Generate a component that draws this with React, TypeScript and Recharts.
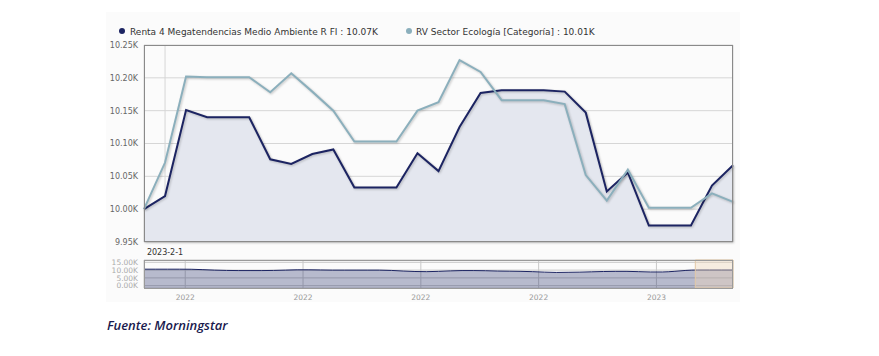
import React from 'react';
import { ComposedChart, Area, Line, XAxis, YAxis, CartesianGrid, ReferenceArea } from 'recharts';

const dates = [
  '2023-1-31', '2023-2-1', '2023-2-2', '2023-2-3', '2023-2-4', '2023-2-5', '2023-2-6', '2023-2-7',
  '2023-2-8', '2023-2-9', '2023-2-10', '2023-2-11', '2023-2-12', '2023-2-13', '2023-2-14', '2023-2-15',
  '2023-2-16', '2023-2-17', '2023-2-18', '2023-2-19', '2023-2-20', '2023-2-21', '2023-2-22', '2023-2-23',
  '2023-2-24', '2023-2-25', '2023-2-26', '2023-2-27', '2023-2-28',
];

const renta = [
  10000, 10020, 10151, 10140, 10140, 10140, 10076, 10069, 10084, 10091, 10033, 10033, 10033, 10085, 10058,
  10125, 10177, 10181, 10181, 10181, 10179, 10147, 10027, 10056, 9975, 9975, 9975, 10036, 10067,
];

const sector = [
  10000, 10071, 10202, 10201, 10201, 10201, 10178, 10207, 10179, 10150, 10103, 10103, 10103, 10150, 10163,
  10227, 10209, 10166, 10166, 10166, 10160, 10052, 10013, 10060, 10002, 10002, 10002, 10024, 10011,
];

const yTicks = [9950, 10000, 10050, 10100, 10150, 10200, 10250];
const xTickIdx = [1];

const navValues = [
  10600, 10600, 10600, 10600, 10550, 10300, 10000, 9800, 9700, 9700, 9700, 9800, 10000, 10200, 10200, 10100,
  10000, 10000, 10000, 10000, 10000, 9800, 9400, 9100, 9000, 9200, 9500, 9700, 9700, 9600, 9400, 9300, 9200,
  9000, 8700, 8500, 8600, 8700, 8900, 9100, 9200, 9200, 9000, 8800, 8800, 9200, 9800, 10070, 10070, 10070, 10070,
];
const navTickPos = [3.5, 13.5, 23.5, 33.5, 43.5];
const navTickLabels = ['2022', '2022', '2022', '2022', '2023'];
const navYTicks = [0, 5000, 10000, 15000];
const navSelection = [46.8, 50];

const legendLabels = [
  'Renta 4 Megatendencias Medio Ambiente R FI : 10.07K',
  'RV Sector Ecología [Categoría] : 10.01K',
];

const DARK = '#1c2462';
const LIGHT = '#8bafbc';

const mainData = dates.map((d, i) => ({ i, date: d, renta: renta[i], sector: sector[i] }));
const navData = navValues.map((v, i) => ({ i, v }));

const fmtK = (v: number) => (v / 1000).toFixed(2) + 'K';

export default function App() {
  return (
    <div style={{ position: 'absolute', left: 0, top: 0, width: 879, height: 356, background: '#fff', overflow: 'hidden', fontFamily: 'DejaVu Sans' }}>
      <style>{`.shadowed path.recharts-curve { filter: drop-shadow(1px 1px 1px rgba(0,0,0,0.22)); }`}</style>
      <div style={{ position: 'absolute', left: 106, top: 12, width: 634, height: 290, background: '#fbfbfb' }} />
      <svg width={879} height={50} style={{ position: 'absolute', left: 0, top: 0 }}>
        <circle cx={122} cy={31} r={3} fill={DARK} />
        <text x={130} y={34.5} fontSize={9} fill="#333" fontFamily="DejaVu Sans">{legendLabels[0]}</text>
        <circle cx={409} cy={31} r={3} fill={LIGHT} />
        <text x={416} y={34.5} fontSize={9} fill="#333" fontFamily="DejaVu Sans">{legendLabels[1]}</text>
      </svg>
      <div style={{ position: 'absolute', left: 0, top: 0 }}>
        <ComposedChart width={879} height={262} data={mainData} margin={{ top: 45, right: 146, bottom: 0, left: 104 }}>
          <CartesianGrid stroke="#d6d6d6" />
          <XAxis
            dataKey="i"
            type="number"
            domain={[0, 28]}
            ticks={xTickIdx}
            interval={0}
            tickFormatter={(v: number) => dates[v]}
            axisLine={false}
            tickLine={false}
            tickSize={5}
            tickMargin={2}
            height={20}
            tick={{ fontSize: 8, fill: '#333', fontFamily: 'DejaVu Sans' }}
          />
          <YAxis
            type="number"
            domain={[9950, 10250]}
            ticks={yTicks}
            interval={0}
            tickFormatter={fmtK}
            axisLine={false}
            tickLine={false}
            tickSize={4}
            tickMargin={2}
            width={40}
            tick={{ fontSize: 8, fill: '#666', fontFamily: 'DejaVu Sans' }}
          />
          <Area
            className="shadowed"
            type="linear"
            dataKey="renta"
            stroke={DARK}
            strokeWidth={2}
            fill="#e4e7ef"
            fillOpacity={1}
            isAnimationActive={false}
            dot={false}
            activeDot={false}
          />
          <Line
            className="shadowed"
            type="linear"
            dataKey="sector"
            stroke={LIGHT}
            strokeWidth={2}
            isAnimationActive={false}
            dot={false}
            activeDot={false}
          />
        </ComposedChart>
      </div>
      <div style={{ position: 'absolute', left: 144, top: 45, width: 589, height: 197, border: '1px solid #8a8a8a', boxSizing: 'border-box', pointerEvents: 'none' }} />
      <div style={{ position: 'absolute', left: 0, top: 250 }}>
        <ComposedChart width={879} height={55} data={navData} margin={{ top: 10, right: 146, bottom: 3, left: 104 }}>
          <CartesianGrid stroke="#c8c8c8" />
          <XAxis
            dataKey="i"
            type="number"
            domain={[0, 50]}
            ticks={navTickPos}
            interval={0}
            tickFormatter={(v: number) => navTickLabels[navTickPos.indexOf(v)]}
            axisLine={false}
            tickLine={false}
            tickSize={5}
            tickMargin={2}
            height={14}
            tick={{ fontSize: 7.5, fill: '#999', fontFamily: 'DejaVu Sans' }}
          />
          <YAxis
            type="number"
            domain={[-1500, 16500]}
            ticks={navYTicks}
            interval={0}
            tickFormatter={fmtK}
            axisLine={false}
            tickLine={false}
            tickSize={4}
            tickMargin={2}
            width={40}
            tick={{ fontSize: 7.5, fill: '#aaa', fontFamily: 'DejaVu Sans' }}
          />
          <Area
            type="monotone"
            dataKey="v"
            stroke={DARK}
            strokeWidth={1}
            fill={DARK}
            fillOpacity={0.3}
            baseValue="dataMin"
            isAnimationActive={false}
            dot={false}
            activeDot={false}
          />
          <ReferenceArea x1={navSelection[0]} x2={navSelection[1]} fill="#f0d8b8" fillOpacity={0.4} stroke="#e3c9a6" strokeWidth={1} ifOverflow="extendDomain" />
        </ComposedChart>
      </div>
      <div style={{ position: 'absolute', left: 144, top: 260, width: 589, height: 29, border: '1px solid #9a9a9a', boxSizing: 'border-box', pointerEvents: 'none' }} />
      <div style={{ position: 'absolute', left: 107, top: 316, fontFamily: 'Open Sans', fontStyle: 'italic', fontWeight: 600, fontSize: 13, color: '#1a1a4e', whiteSpace: 'nowrap' }}>
        Fuente: Morningstar
      </div>
    </div>
  );
}
